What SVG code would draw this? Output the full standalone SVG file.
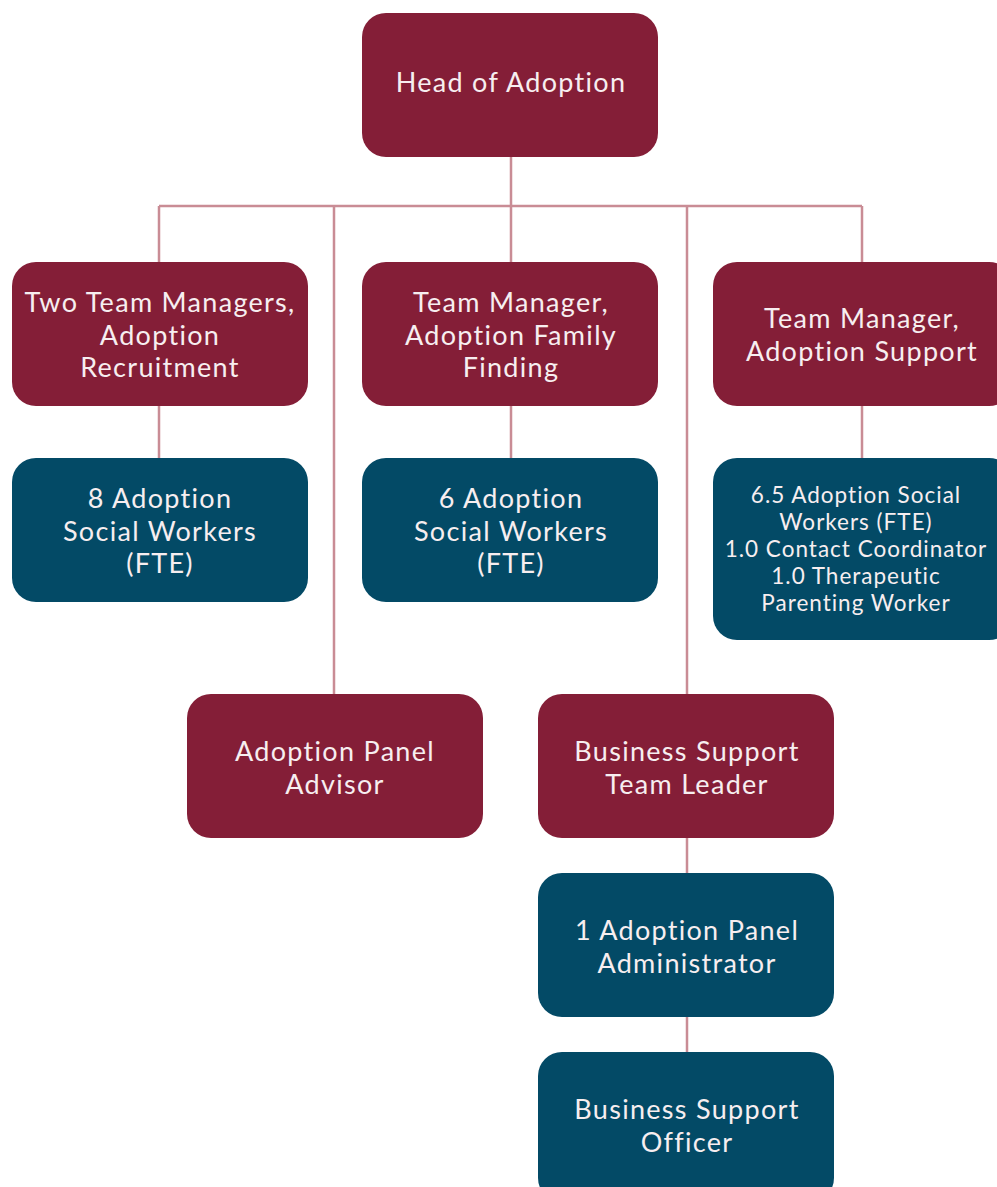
<svg xmlns="http://www.w3.org/2000/svg" width="997" height="1187" viewBox="0 0 997 1187">
<style>
.m{fill:#841e37}
.b{fill:#034a66}
.t{font-family:Lato,"Noto Sans",sans-serif;font-size:27px;letter-spacing:1.3px;fill:#f7eef0;text-anchor:middle}
.s{font-size:22.5px;letter-spacing:1px}
.c{stroke:#c98c95;stroke-width:2.5;fill:none}
</style>
<rect width="997" height="1187" fill="#ffffff"/>
<g id="connectors" class="c">
<path d="M511 157V262M159 206H862M159 206V262M334 206V694M687 206V694M862 206V262M159 406V458M511 406V458M862 406V458M687 838V873M687 1017V1052"/>
</g>
<g id="head"><rect class="m" x="362" y="13" width="296" height="144" rx="24"/><text class="t" x="511" y="92">Head of Adoption</text></g>
<g id="tm-recruit"><rect class="m" x="12" y="262" width="296" height="144" rx="24"/><text class="t" x="160" y="312">Two Team Managers,</text><text class="t" x="160" y="345">Adoption</text><text class="t" x="160" y="377">Recruitment</text></g>
<g id="tm-family"><rect class="m" x="362" y="262" width="296" height="144" rx="24"/><text class="t" x="511" y="312">Team Manager,</text><text class="t" x="511" y="345">Adoption Family</text><text class="t" x="511" y="377">Finding</text></g>
<g id="tm-support"><rect class="m" x="713" y="262" width="300" height="144" rx="24"/><text class="t" x="862" y="328">Team Manager,</text><text class="t" x="862" y="361">Adoption Support</text></g>
<g id="sw-recruit"><rect class="b" x="12" y="458" width="296" height="144" rx="24"/><text class="t" x="160" y="508">8 Adoption</text><text class="t" x="160" y="541">Social Workers</text><text class="t" x="160" y="573">(FTE)</text></g>
<g id="sw-family"><rect class="b" x="362" y="458" width="296" height="144" rx="24"/><text class="t" x="511" y="508">6 Adoption</text><text class="t" x="511" y="541">Social Workers</text><text class="t" x="511" y="573">(FTE)</text></g>
<g id="sw-support"><rect class="b" x="713" y="458" width="300" height="182" rx="24"/><text class="t s" x="856" y="503">6.5 Adoption Social</text><text class="t s" x="856" y="530">Workers (FTE)</text><text class="t s" x="856" y="557">1.0 Contact Coordinator</text><text class="t s" x="856" y="584">1.0 Therapeutic</text><text class="t s" x="856" y="611">Parenting Worker</text></g>
<g id="panel-advisor"><rect class="m" x="187" y="694" width="296" height="144" rx="24"/><text class="t" x="335" y="761">Adoption Panel</text><text class="t" x="335" y="794">Advisor</text></g>
<g id="bs-leader"><rect class="m" x="538" y="694" width="296" height="144" rx="24"/><text class="t" x="687" y="761">Business Support</text><text class="t" x="687" y="794">Team Leader</text></g>
<g id="panel-admin"><rect class="b" x="538" y="873" width="296" height="144" rx="24"/><text class="t" x="687" y="940">1 Adoption Panel</text><text class="t" x="687" y="973">Administrator</text></g>
<g id="bs-officer"><rect class="b" x="538" y="1052" width="296" height="150" rx="24"/><text class="t" x="687" y="1119">Business Support</text><text class="t" x="687" y="1152">Officer</text></g>
</svg>
